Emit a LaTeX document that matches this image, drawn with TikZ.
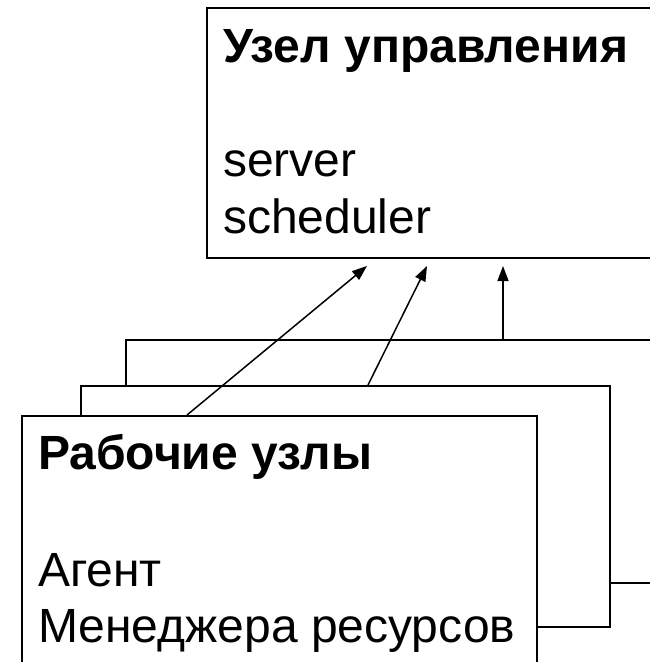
\documentclass[tikz,border=0pt]{standalone}
\usepackage{fontspec}
\setmainfont{Liberation Sans}
\usetikzlibrary{arrows.meta,calc}

\tikzset{
  box/.style={draw=black, fill=white, line width=1.6pt, inner sep=0pt,
    anchor=north west, rectangle},
  label/.style={anchor=base west, inner sep=0pt, font=\fontsize{48}{56}\selectfont},
  title/.style={label, font=\fontsize{48}{56}\selectfont\bfseries},
  link/.style={line width=1.5pt, -{Triangle[length=15pt,width=11pt]}}
}

\begin{document}
\begin{tikzpicture}[x=1pt, y=-1pt]
  \useasboundingbox (0,0) rectangle (650,662);
  \clip (0,0) rectangle (650,662);

  % control node (runs off the right edge)
  \node[box, line width=2pt, minimum width=480pt, minimum height=250pt] (ctrl) at (206,7) {};
  \node[title] (ctrlT) at (223,62) {Узел управления};
  \node[label] (srv) at (223,176) {server};
  \node[label] (sch) at (223,233) {scheduler};

  % stack of worker nodes, back to front
  \node[box, minimum width=560pt, minimum height=243pt] (w3) at (125,339) {};
  \node[box, minimum width=529pt, minimum height=241pt] (w2) at (80,385) {};
  \node[box, minimum width=515pt, minimum height=300pt] (w1) at (21,415) {};
  \node[title] (w1T) at (38,469) {Рабочие узлы};
  \node[label] (agt) at (38,586) {Агент};
  \node[label] (mgr) at (38,642) {Менеджера ресурсов};

  % links to the control node
  \draw[link] ($(w1.north west)+(166,0)$) -- ($(ctrl.south west)+(161,7)$);
  \draw[link] ($(w2.north west)+(288,0)$) -- ($(ctrl.south west)+(221,7)$);
  \draw[link] ($(w3.north west)+(378,0)$) -- ($(ctrl.south west)+(297,7)$);
\end{tikzpicture}
\end{document}
